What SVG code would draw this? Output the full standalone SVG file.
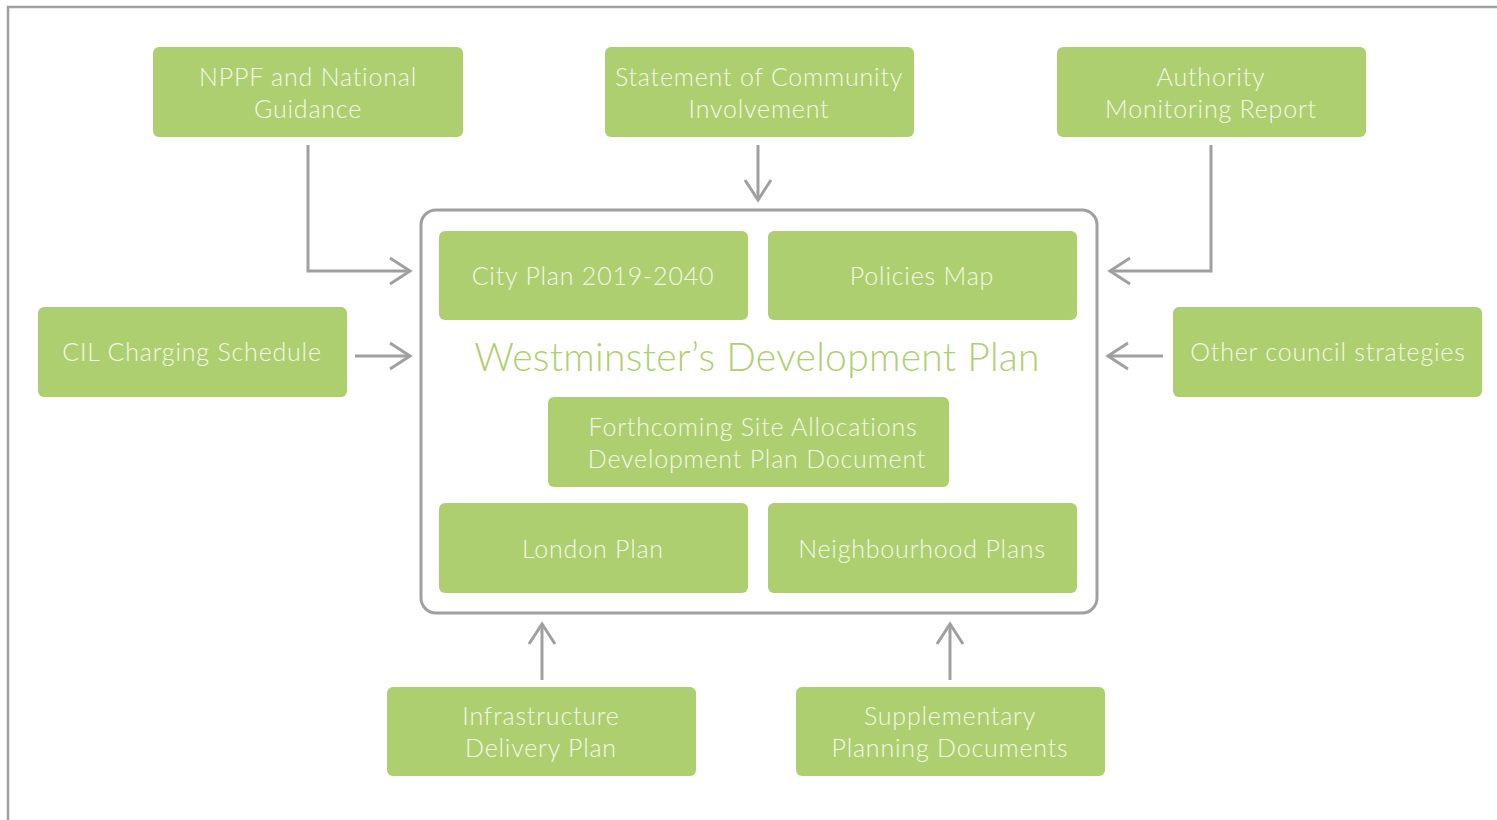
<svg xmlns="http://www.w3.org/2000/svg" width="1497" height="820" viewBox="0 0 1497 820">
<defs>
<style>
.box{fill:#aecf6f;}
.t{font-family:Lato,"Open Sans","Liberation Sans",sans-serif;font-weight:300;font-size:25px;letter-spacing:0.8px;fill:#f3f8ea;text-anchor:middle;}
.title{font-family:Lato,"Open Sans","Liberation Sans",sans-serif;font-weight:300;font-size:39px;letter-spacing:0.3px;fill:#aecf6f;text-anchor:middle;}
.c{fill:none;stroke:#a0a0a0;stroke-width:3;}
</style>
<marker id="ah" markerUnits="userSpaceOnUse" markerWidth="30" markerHeight="30" viewBox="-25 -15 30 30" refX="0" refY="0" orient="auto">
<path d="M-20,-13 L0,0 L-20,13" fill="none" stroke="#a0a0a0" stroke-width="3"/>
</marker>
</defs>
<rect width="1497" height="820" fill="#ffffff"/>
<path d="M8,820 L8,7 L1497,7" fill="none" stroke="#a0a0a0" stroke-width="2.5"/>

<g id="container">
<rect x="421" y="210" width="676" height="403" rx="15" fill="none" stroke="#a0a0a0" stroke-width="3"/>
<text class="title" x="757" y="371">Westminster’s Development Plan</text>
</g>

<g id="nppf"><rect class="box" x="153" y="47" width="310" height="90" rx="6"/><text class="t" x="308" y="86">NPPF and National</text><text class="t" x="308" y="118">Guidance</text></g>
<g id="sci"><rect class="box" x="605" y="47" width="309" height="90" rx="6"/><text class="t" x="759" y="86">Statement of Community</text><text class="t" x="759" y="118">Involvement</text></g>
<g id="amr"><rect class="box" x="1057" y="47" width="309" height="90" rx="6"/><text class="t" x="1211" y="86">Authority</text><text class="t" x="1211" y="118">Monitoring Report</text></g>
<g id="cil"><rect class="box" x="38" y="307" width="309" height="90" rx="6"/><text class="t" x="192" y="361">CIL Charging Schedule</text></g>
<g id="other"><rect class="box" x="1173" y="307" width="309" height="90" rx="6"/><text class="t" x="1328" y="361">Other council strategies</text></g>
<g id="cityplan"><rect class="box" x="439" y="231" width="309" height="89" rx="6"/><text class="t" x="593" y="285">City Plan 2019-2040</text></g>
<g id="policies"><rect class="box" x="768" y="231" width="309" height="89" rx="6"/><text class="t" x="922" y="285">Policies Map</text></g>
<g id="forthcoming"><rect class="box" x="548" y="397" width="401" height="90" rx="6"/><text class="t" x="753" y="436">Forthcoming Site Allocations</text><text class="t" x="757" y="468">Development Plan Document</text></g>
<g id="london"><rect class="box" x="439" y="503" width="309" height="90" rx="6"/><text class="t" x="593" y="558">London Plan</text></g>
<g id="neighbourhood"><rect class="box" x="768" y="503" width="309" height="90" rx="6"/><text class="t" x="922" y="558">Neighbourhood Plans</text></g>
<g id="idp"><rect class="box" x="387" y="687" width="309" height="89" rx="6"/><text class="t" x="541" y="725">Infrastructure</text><text class="t" x="541" y="757">Delivery Plan</text></g>
<g id="spd"><rect class="box" x="796" y="687" width="309" height="89" rx="6"/><text class="t" x="950" y="725">Supplementary</text><text class="t" x="950" y="757">Planning Documents</text></g>

<g id="connectors">
<path class="c" d="M308,145 L308,271 L410,271" marker-end="url(#ah)"/>
<path class="c" d="M758,145 L758,200" marker-end="url(#ah)"/>
<path class="c" d="M1211,145 L1211,271 L1110,271" marker-end="url(#ah)"/>
<path class="c" d="M355,356 L410,356" marker-end="url(#ah)"/>
<path class="c" d="M1163,356 L1108,356" marker-end="url(#ah)"/>
<path class="c" d="M542,680 L542,624" marker-end="url(#ah)"/>
<path class="c" d="M950,680 L950,624" marker-end="url(#ah)"/>
</g>
</svg>
